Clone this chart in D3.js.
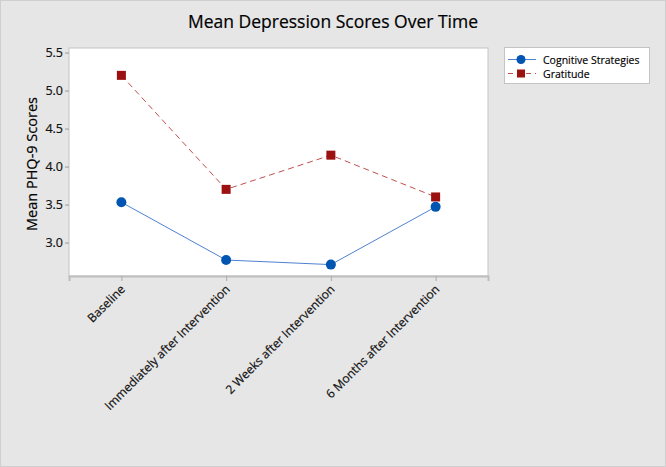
<!DOCTYPE html>
<html><head><meta charset="utf-8">
<script src="https://cdn.jsdelivr.net/npm/d3@7"></script>
<style>body{margin:0;background:#e6e6e6;} svg{display:block;font-family:"Open Sans","Noto Sans",sans-serif;}</style>
</head><body>
<svg id="c" width="666" height="467"></svg>
<script>
const categories = ["Baseline","Immediately after Intervention","2 Weeks after Intervention","6 Months after Intervention"];
const cognitive = [3.53, 2.77, 2.71, 3.47];
const gratitude = [5.20, 3.70, 4.15, 3.60];
const yTicks = [3.0, 3.5, 4.0, 4.5, 5.0, 5.5];
const seriesNames = ["Cognitive Strategies","Gratitude"];

const svg = d3.select("#c");
svg.append("rect").attr("x",0.5).attr("y",0.5).attr("width",665).attr("height",466)
  .attr("fill","#e6e6e6").attr("stroke","#cfcfcf");

const L=69, T=48, R=488, B=276;
const x = d3.scalePoint().domain(categories).range([L,R]).padding(0.5);
const y = d3.scaleLinear().domain([2.56,5.56]).range([B,T]);

svg.append("rect").attr("x",L).attr("y",T).attr("width",R-L).attr("height",B-T)
  .attr("fill","#fff").attr("stroke","#c4c4c4");

svg.append("text").attr("x",333).attr("y",28).attr("text-anchor","middle")
  .attr("font-size",17.5).attr("fill","#000").attr("stroke","#000").attr("stroke-width",0.2)
  .text("Mean Depression Scores Over Time");

// y axis
const ya = svg.append("g").attr("transform",`translate(${L},0)`)
  .call(d3.axisLeft(y).tickValues(yTicks).tickFormat(d3.format(".1f")).tickSize(4).tickPadding(2));
ya.select(".domain").remove();
ya.selectAll("line").attr("stroke","#999");
ya.selectAll("text").attr("font-size",12.5).attr("fill","#111").attr("stroke","#111").attr("stroke-width",0.2)
  .attr("font-family","'Open Sans','Noto Sans',sans-serif");

// x axis
const xa = svg.append("g").attr("transform",`translate(0,${B})`)
  .call(d3.axisBottom(x).tickSize(5).tickPadding(4));
xa.select(".domain").attr("stroke","#bdbdbd").attr("stroke-width",2);
xa.selectAll("line").attr("stroke","#aaa");
xa.selectAll("text").attr("font-size",12).attr("fill","#111").attr("stroke","#111").attr("stroke-width",0.2)
  .attr("font-family","'Open Sans','Noto Sans',sans-serif")
  .attr("text-anchor","end").attr("dy","0").attr("y",0)
  .attr("transform","translate(4,14) rotate(-45)");

svg.append("text").attr("transform","translate(37,164) rotate(-90)")
  .attr("text-anchor","middle").attr("font-size",14.5).attr("fill","#000").attr("stroke","#000").attr("stroke-width",0.2)
  .text("Mean PHQ-9 Scores");

const line = d3.line().x((d,i)=>x(categories[i])).y(d=>y(d));
svg.append("path").datum(gratitude).attr("d",line).attr("fill","none")
  .attr("stroke","#c0504d").attr("stroke-width",1).attr("stroke-dasharray","6,4");
svg.append("path").datum(cognitive).attr("d",line).attr("fill","none")
  .attr("stroke","#4f81d0").attr("stroke-width",1);

svg.selectAll(".sq").data(gratitude).enter().append("rect")
  .attr("x",(d,i)=>x(categories[i])-4.5).attr("y",d=>y(d)-4.5).attr("width",9).attr("height",9)
  .attr("fill","#9b1010");
svg.selectAll(".ci").data(cognitive).enter().append("circle")
  .attr("cx",(d,i)=>x(categories[i])).attr("cy",d=>y(d)).attr("r",5).attr("fill","#0055b3");

// legend
const lg = svg.append("g");
lg.append("rect").attr("x",504.5).attr("y",47.5).attr("width",145).attr("height",36)
  .attr("fill","#fff").attr("stroke","#c4c4c4");
lg.append("line").attr("x1",508).attr("x2",536).attr("y1",59.5).attr("y2",59.5).attr("stroke","#4f81d0");
lg.append("circle").attr("cx",521).attr("cy",59.5).attr("r",4.5).attr("fill","#0055b3");
lg.append("line").attr("x1",508).attr("x2",536).attr("y1",73.5).attr("y2",73.5).attr("stroke","#c0504d").attr("stroke-dasharray","5,4");
lg.append("rect").attr("x",517).attr("y",69.5).attr("width",8).attr("height",8).attr("fill","#9b1010");
lg.selectAll(".lt").data(seriesNames).enter().append("text")
  .attr("x",543).attr("y",(d,i)=>63.5+i*14).attr("font-size",10.5).attr("fill","#000")
  .attr("stroke","#000").attr("stroke-width",0.15).text(d=>d);
</script>
</body></html>
